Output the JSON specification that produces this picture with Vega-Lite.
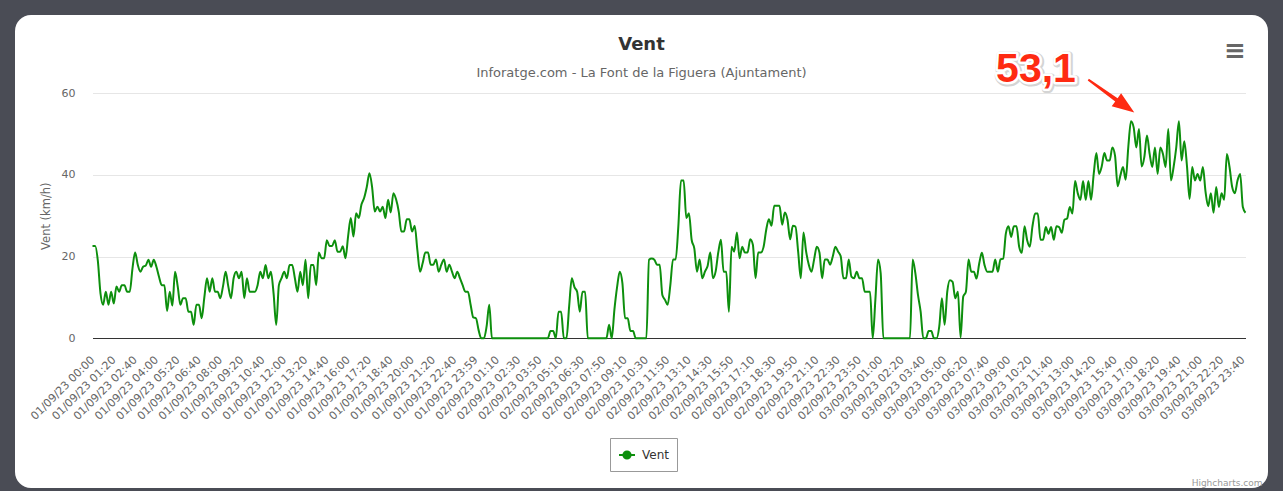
{
"$schema":"https://vega.github.io/schema/vega-lite/v6.json",
"width":1253,"height":473,
"autosize":{"type":"none"},
"padding":{"left":15,"top":15,"right":15,"bottom":3},
"background":"#4a4c55",
"config":{"view":{"fill":"white","stroke":null,"cornerRadius":16},"font":"DejaVu Sans"},
"title":{"text":"Vent","subtitle":"Inforatge.com - La Font de la Figuera (Ajuntament)","anchor":"middle","frame":"group","offset":-65,"font":"DejaVu Sans","fontSize":18,"fontWeight":"bold","color":"#333333","subtitleFont":"DejaVu Sans","subtitleFontSize":13,"subtitleColor":"#666666","subtitlePadding":13.5},
"datasets":{
"ann":[{"t":"03/09/23 16:40","v":53.1,"label":"53,1","menu":"≡"}],
"wind":[
{"t":"01/09/23 00:00","v":22.6},{"t":"01/09/23 00:10","v":22.6},{"t":"01/09/23 00:20","v":19},{"t":"01/09/23 00:30","v":11},{"t":"01/09/23 00:40","v":8.2},{"t":"01/09/23 00:50","v":11.4},
{"t":"01/09/23 01:00","v":8.2},{"t":"01/09/23 01:10","v":11.4},{"t":"01/09/23 01:20","v":8.5},{"t":"01/09/23 01:30","v":12.7},{"t":"01/09/23 01:40","v":11.4},{"t":"01/09/23 01:50","v":13},
{"t":"01/09/23 02:00","v":13},{"t":"01/09/23 02:10","v":11.4},{"t":"01/09/23 02:20","v":11.4},{"t":"01/09/23 02:30","v":17},{"t":"01/09/23 02:40","v":21},{"t":"01/09/23 02:50","v":18},
{"t":"01/09/23 03:00","v":16.3},{"t":"01/09/23 03:10","v":17.5},{"t":"01/09/23 03:20","v":17.8},{"t":"01/09/23 03:30","v":19.2},{"t":"01/09/23 03:40","v":17.5},{"t":"01/09/23 03:50","v":19.2},
{"t":"01/09/23 04:00","v":17.5},{"t":"01/09/23 04:10","v":15},{"t":"01/09/23 04:20","v":13},{"t":"01/09/23 04:30","v":13},{"t":"01/09/23 04:40","v":6.7},{"t":"01/09/23 04:50","v":11.4},
{"t":"01/09/23 05:00","v":8},{"t":"01/09/23 05:10","v":16.3},{"t":"01/09/23 05:20","v":12.7},{"t":"01/09/23 05:30","v":8.2},{"t":"01/09/23 05:40","v":9.8},{"t":"01/09/23 05:50","v":9.8},
{"t":"01/09/23 06:00","v":6.5},{"t":"01/09/23 06:10","v":6.5},{"t":"01/09/23 06:20","v":3.3},{"t":"01/09/23 06:30","v":8.2},{"t":"01/09/23 06:40","v":8.2},{"t":"01/09/23 06:50","v":4.9},
{"t":"01/09/23 07:00","v":10},{"t":"01/09/23 07:10","v":14.7},{"t":"01/09/23 07:20","v":11.4},{"t":"01/09/23 07:30","v":14.7},{"t":"01/09/23 07:40","v":11.4},{"t":"01/09/23 07:50","v":11.4},
{"t":"01/09/23 08:00","v":9.8},{"t":"01/09/23 08:10","v":12.7},{"t":"01/09/23 08:20","v":16.3},{"t":"01/09/23 08:30","v":12.7},{"t":"01/09/23 08:40","v":9.8},{"t":"01/09/23 08:50","v":14.7},
{"t":"01/09/23 09:00","v":16.3},{"t":"01/09/23 09:10","v":14.7},{"t":"01/09/23 09:20","v":16.3},{"t":"01/09/23 09:30","v":9.8},{"t":"01/09/23 09:40","v":14.7},{"t":"01/09/23 09:50","v":11.4},
{"t":"01/09/23 10:00","v":11.4},{"t":"01/09/23 10:10","v":11.4},{"t":"01/09/23 10:20","v":13},{"t":"01/09/23 10:30","v":16.3},{"t":"01/09/23 10:40","v":14.7},{"t":"01/09/23 10:50","v":17.9},
{"t":"01/09/23 11:00","v":14.7},{"t":"01/09/23 11:10","v":16.3},{"t":"01/09/23 11:20","v":11},{"t":"01/09/23 11:30","v":3.3},{"t":"01/09/23 11:40","v":13},{"t":"01/09/23 11:50","v":14.7},
{"t":"01/09/23 12:00","v":16.3},{"t":"01/09/23 12:10","v":14.7},{"t":"01/09/23 12:20","v":17.9},{"t":"01/09/23 12:30","v":17.9},{"t":"01/09/23 12:40","v":14.7},{"t":"01/09/23 12:50","v":11.4},
{"t":"01/09/23 13:00","v":16.3},{"t":"01/09/23 13:10","v":13},{"t":"01/09/23 13:20","v":19.2},{"t":"01/09/23 13:30","v":9.8},{"t":"01/09/23 13:40","v":17.9},{"t":"01/09/23 13:50","v":17.9},
{"t":"01/09/23 14:00","v":13},{"t":"01/09/23 14:10","v":21},{"t":"01/09/23 14:20","v":19.6},{"t":"01/09/23 14:30","v":19.6},{"t":"01/09/23 14:40","v":24},{"t":"01/09/23 14:50","v":22.6},
{"t":"01/09/23 15:00","v":22.6},{"t":"01/09/23 15:10","v":24},{"t":"01/09/23 15:20","v":21.2},{"t":"01/09/23 15:30","v":21.2},{"t":"01/09/23 15:40","v":22.5},{"t":"01/09/23 15:50","v":19.6},
{"t":"01/09/23 16:00","v":25},{"t":"01/09/23 16:10","v":29.4},{"t":"01/09/23 16:20","v":24.9},{"t":"01/09/23 16:30","v":30.6},{"t":"01/09/23 16:40","v":29.4},{"t":"01/09/23 16:50","v":32.7},
{"t":"01/09/23 17:00","v":34.3},{"t":"01/09/23 17:10","v":37},{"t":"01/09/23 17:20","v":40.4},{"t":"01/09/23 17:30","v":37},{"t":"01/09/23 17:40","v":31},{"t":"01/09/23 17:50","v":32.2},
{"t":"01/09/23 18:00","v":31},{"t":"01/09/23 18:10","v":32.2},{"t":"01/09/23 18:20","v":29.4},{"t":"01/09/23 18:30","v":33.9},{"t":"01/09/23 18:40","v":30.8},{"t":"01/09/23 18:50","v":35.5},
{"t":"01/09/23 19:00","v":34},{"t":"01/09/23 19:10","v":31},{"t":"01/09/23 19:20","v":26.1},{"t":"01/09/23 19:30","v":26.1},{"t":"01/09/23 19:40","v":29.1},{"t":"01/09/23 19:50","v":29.1},
{"t":"01/09/23 20:00","v":26.1},{"t":"01/09/23 20:10","v":27.5},{"t":"01/09/23 20:20","v":21.6},{"t":"01/09/23 20:30","v":16.3},{"t":"01/09/23 20:40","v":18.4},{"t":"01/09/23 20:50","v":21},
{"t":"01/09/23 21:00","v":21},{"t":"01/09/23 21:10","v":18},{"t":"01/09/23 21:20","v":18},{"t":"01/09/23 21:30","v":19.3},{"t":"01/09/23 21:40","v":16.3},{"t":"01/09/23 21:50","v":18},
{"t":"01/09/23 22:00","v":19.3},{"t":"01/09/23 22:10","v":16.3},{"t":"01/09/23 22:20","v":18},{"t":"01/09/23 22:30","v":16.3},{"t":"01/09/23 22:40","v":14.7},{"t":"01/09/23 22:50","v":16.3},
{"t":"01/09/23 23:00","v":14.7},{"t":"01/09/23 23:10","v":13},{"t":"01/09/23 23:20","v":11.4},{"t":"01/09/23 23:30","v":11.4},{"t":"01/09/23 23:40","v":8.2},{"t":"01/09/23 23:50","v":5.1},
{"t":"01/09/23 23:59","v":4.9},
{"t":"02/09/23 00:00","v":2},{"t":"02/09/23 00:10","v":0},{"t":"02/09/23 00:20","v":0},{"t":"02/09/23 00:30","v":2.9},{"t":"02/09/23 00:40","v":8.2},{"t":"02/09/23 00:50","v":0},
{"t":"02/09/23 01:00","v":0},{"t":"02/09/23 01:10","v":0},{"t":"02/09/23 01:20","v":0},{"t":"02/09/23 01:30","v":0},{"t":"02/09/23 01:40","v":0},{"t":"02/09/23 01:50","v":0},
{"t":"02/09/23 02:00","v":0},{"t":"02/09/23 02:10","v":0},{"t":"02/09/23 02:20","v":0},{"t":"02/09/23 02:30","v":0},{"t":"02/09/23 02:40","v":0},{"t":"02/09/23 02:50","v":0},
{"t":"02/09/23 03:00","v":0},{"t":"02/09/23 03:10","v":0},{"t":"02/09/23 03:20","v":0},{"t":"02/09/23 03:30","v":0},{"t":"02/09/23 03:40","v":0},{"t":"02/09/23 03:50","v":0},
{"t":"02/09/23 04:00","v":0},{"t":"02/09/23 04:10","v":0},{"t":"02/09/23 04:20","v":0},{"t":"02/09/23 04:30","v":1.8},{"t":"02/09/23 04:40","v":1.8},{"t":"02/09/23 04:50","v":0},
{"t":"02/09/23 05:00","v":6.5},{"t":"02/09/23 05:10","v":6.5},{"t":"02/09/23 05:20","v":0},{"t":"02/09/23 05:30","v":0},{"t":"02/09/23 05:40","v":7.8},{"t":"02/09/23 05:50","v":14.7},
{"t":"02/09/23 06:00","v":12.5},{"t":"02/09/23 06:10","v":11.4},{"t":"02/09/23 06:20","v":6.5},{"t":"02/09/23 06:30","v":11.4},{"t":"02/09/23 06:40","v":11.4},{"t":"02/09/23 06:50","v":0},
{"t":"02/09/23 07:00","v":0},{"t":"02/09/23 07:10","v":0},{"t":"02/09/23 07:20","v":0},{"t":"02/09/23 07:30","v":0},{"t":"02/09/23 07:40","v":0},{"t":"02/09/23 07:50","v":0},
{"t":"02/09/23 08:00","v":0},{"t":"02/09/23 08:10","v":3.3},{"t":"02/09/23 08:20","v":0},{"t":"02/09/23 08:30","v":7},{"t":"02/09/23 08:40","v":12.5},{"t":"02/09/23 08:50","v":16.3},
{"t":"02/09/23 09:00","v":13.5},{"t":"02/09/23 09:10","v":4.9},{"t":"02/09/23 09:20","v":4.9},{"t":"02/09/23 09:30","v":1.8},{"t":"02/09/23 09:40","v":1.8},{"t":"02/09/23 09:50","v":0},
{"t":"02/09/23 10:00","v":0},{"t":"02/09/23 10:10","v":0},{"t":"02/09/23 10:20","v":0},{"t":"02/09/23 10:30","v":0},{"t":"02/09/23 10:40","v":19.2},{"t":"02/09/23 10:50","v":19.5},
{"t":"02/09/23 11:00","v":19.2},{"t":"02/09/23 11:10","v":18},{"t":"02/09/23 11:20","v":18},{"t":"02/09/23 11:30","v":10.6},{"t":"02/09/23 11:40","v":9.4},{"t":"02/09/23 11:50","v":8.2},
{"t":"02/09/23 12:00","v":13},{"t":"02/09/23 12:10","v":19.3},{"t":"02/09/23 12:20","v":19.3},{"t":"02/09/23 12:30","v":27.3},{"t":"02/09/23 12:40","v":38.6},{"t":"02/09/23 12:50","v":38.6},
{"t":"02/09/23 13:00","v":29.4},{"t":"02/09/23 13:10","v":30.6},{"t":"02/09/23 13:20","v":24.1},{"t":"02/09/23 13:30","v":22},{"t":"02/09/23 13:40","v":16.3},{"t":"02/09/23 13:50","v":19.3},
{"t":"02/09/23 14:00","v":14.7},{"t":"02/09/23 14:10","v":16.3},{"t":"02/09/23 14:20","v":17.7},{"t":"02/09/23 14:30","v":21},{"t":"02/09/23 14:40","v":14.7},{"t":"02/09/23 14:50","v":16.3},
{"t":"02/09/23 15:00","v":21},{"t":"02/09/23 15:10","v":24.1},{"t":"02/09/23 15:20","v":16.3},{"t":"02/09/23 15:30","v":16.3},{"t":"02/09/23 15:40","v":6.5},{"t":"02/09/23 15:50","v":22.4},
{"t":"02/09/23 16:00","v":21.2},{"t":"02/09/23 16:10","v":25.9},{"t":"02/09/23 16:20","v":19.6},{"t":"02/09/23 16:30","v":22.4},{"t":"02/09/23 16:40","v":21},{"t":"02/09/23 16:50","v":21},
{"t":"02/09/23 17:00","v":24.2},{"t":"02/09/23 17:10","v":22.9},{"t":"02/09/23 17:20","v":14.7},{"t":"02/09/23 17:30","v":21},{"t":"02/09/23 17:40","v":21},{"t":"02/09/23 17:50","v":22.3},
{"t":"02/09/23 18:00","v":26.5},{"t":"02/09/23 18:10","v":29.1},{"t":"02/09/23 18:20","v":27.5},{"t":"02/09/23 18:30","v":32.4},{"t":"02/09/23 18:40","v":32.4},{"t":"02/09/23 18:50","v":32.4},
{"t":"02/09/23 19:00","v":27.8},{"t":"02/09/23 19:10","v":30.8},{"t":"02/09/23 19:20","v":29},{"t":"02/09/23 19:30","v":24.2},{"t":"02/09/23 19:40","v":27.5},{"t":"02/09/23 19:50","v":27.3},
{"t":"02/09/23 20:00","v":21.2},{"t":"02/09/23 20:10","v":14.7},{"t":"02/09/23 20:20","v":25.9},{"t":"02/09/23 20:30","v":21.2},{"t":"02/09/23 20:40","v":18},{"t":"02/09/23 20:50","v":16.3},
{"t":"02/09/23 21:00","v":19.3},{"t":"02/09/23 21:10","v":22.4},{"t":"02/09/23 21:20","v":21},{"t":"02/09/23 21:30","v":14.7},{"t":"02/09/23 21:40","v":19.3},{"t":"02/09/23 21:50","v":19.3},
{"t":"02/09/23 22:00","v":18},{"t":"02/09/23 22:10","v":20},{"t":"02/09/23 22:20","v":22.4},{"t":"02/09/23 22:30","v":21.2},{"t":"02/09/23 22:40","v":20},{"t":"02/09/23 22:50","v":14.7},
{"t":"02/09/23 23:00","v":14.7},{"t":"02/09/23 23:10","v":19.3},{"t":"02/09/23 23:20","v":15.1},{"t":"02/09/23 23:30","v":14.7},{"t":"02/09/23 23:40","v":16.3},{"t":"02/09/23 23:50","v":14.7},
{"t":"02/09/23 23:59","v":14.7},
{"t":"03/09/23 00:00","v":11.4},{"t":"03/09/23 00:10","v":11.4},{"t":"03/09/23 00:20","v":11.4},{"t":"03/09/23 00:30","v":0},{"t":"03/09/23 00:40","v":9.4},{"t":"03/09/23 00:50","v":19.3},
{"t":"03/09/23 01:00","v":15.9},{"t":"03/09/23 01:10","v":0},{"t":"03/09/23 01:20","v":0},{"t":"03/09/23 01:30","v":0},{"t":"03/09/23 01:40","v":0},{"t":"03/09/23 01:50","v":0},
{"t":"03/09/23 02:00","v":0},{"t":"03/09/23 02:10","v":0},{"t":"03/09/23 02:20","v":0},{"t":"03/09/23 02:30","v":0},{"t":"03/09/23 02:40","v":0},{"t":"03/09/23 02:50","v":0},
{"t":"03/09/23 03:00","v":19.3},{"t":"03/09/23 03:10","v":16},{"t":"03/09/23 03:20","v":10.6},{"t":"03/09/23 03:30","v":6.5},{"t":"03/09/23 03:40","v":0},{"t":"03/09/23 03:50","v":0},
{"t":"03/09/23 04:00","v":1.8},{"t":"03/09/23 04:10","v":1.8},{"t":"03/09/23 04:20","v":0},{"t":"03/09/23 04:30","v":0},{"t":"03/09/23 04:40","v":2.9},{"t":"03/09/23 04:50","v":9.8},
{"t":"03/09/23 05:00","v":3.3},{"t":"03/09/23 05:10","v":11.4},{"t":"03/09/23 05:20","v":14.2},{"t":"03/09/23 05:30","v":13.8},{"t":"03/09/23 05:40","v":9.8},{"t":"03/09/23 05:50","v":11.4},
{"t":"03/09/23 06:00","v":0.2},{"t":"03/09/23 06:10","v":10.2},{"t":"03/09/23 06:20","v":11.4},{"t":"03/09/23 06:30","v":19.3},{"t":"03/09/23 06:40","v":16.3},{"t":"03/09/23 06:50","v":16.3},
{"t":"03/09/23 07:00","v":14.6},{"t":"03/09/23 07:10","v":18.3},{"t":"03/09/23 07:20","v":20.9},{"t":"03/09/23 07:30","v":17.9},{"t":"03/09/23 07:40","v":16.3},{"t":"03/09/23 07:50","v":16.3},
{"t":"03/09/23 08:00","v":16.3},{"t":"03/09/23 08:10","v":19.3},{"t":"03/09/23 08:20","v":16.3},{"t":"03/09/23 08:30","v":19.3},{"t":"03/09/23 08:40","v":19.5},{"t":"03/09/23 08:50","v":25.6},
{"t":"03/09/23 09:00","v":27.4},{"t":"03/09/23 09:10","v":24.8},{"t":"03/09/23 09:20","v":27.4},{"t":"03/09/23 09:30","v":27.4},{"t":"03/09/23 09:40","v":22.4},{"t":"03/09/23 09:50","v":20.9},
{"t":"03/09/23 10:00","v":27.4},{"t":"03/09/23 10:10","v":24},{"t":"03/09/23 10:20","v":22.4},{"t":"03/09/23 10:30","v":27.4},{"t":"03/09/23 10:40","v":30.5},{"t":"03/09/23 10:50","v":30.5},
{"t":"03/09/23 11:00","v":24.1},{"t":"03/09/23 11:10","v":24.1},{"t":"03/09/23 11:20","v":27.2},{"t":"03/09/23 11:30","v":25.6},{"t":"03/09/23 11:40","v":27.2},{"t":"03/09/23 11:50","v":24.1},
{"t":"03/09/23 12:00","v":27.4},{"t":"03/09/23 12:10","v":27.2},{"t":"03/09/23 12:20","v":25.8},{"t":"03/09/23 12:30","v":29},{"t":"03/09/23 12:40","v":29.3},{"t":"03/09/23 12:50","v":32.1},
{"t":"03/09/23 13:00","v":30.5},{"t":"03/09/23 13:10","v":38.5},{"t":"03/09/23 13:20","v":35.5},{"t":"03/09/23 13:30","v":33.9},{"t":"03/09/23 13:40","v":38.5},{"t":"03/09/23 13:50","v":33.9},
{"t":"03/09/23 14:00","v":38.5},{"t":"03/09/23 14:10","v":33.9},{"t":"03/09/23 14:20","v":40.2},{"t":"03/09/23 14:30","v":45.3},{"t":"03/09/23 14:40","v":40.2},{"t":"03/09/23 14:50","v":42},
{"t":"03/09/23 15:00","v":45.3},{"t":"03/09/23 15:10","v":43.5},{"t":"03/09/23 15:20","v":43.5},{"t":"03/09/23 15:30","v":46.7},{"t":"03/09/23 15:40","v":44.7},{"t":"03/09/23 15:50","v":37.2},
{"t":"03/09/23 16:00","v":39.8},{"t":"03/09/23 16:10","v":41.9},{"t":"03/09/23 16:20","v":38.8},{"t":"03/09/23 16:30","v":46.9},{"t":"03/09/23 16:40","v":53.1},{"t":"03/09/23 16:50","v":51.6},
{"t":"03/09/23 17:00","v":46.7},{"t":"03/09/23 17:10","v":51.2},{"t":"03/09/23 17:20","v":42},{"t":"03/09/23 17:30","v":44.3},{"t":"03/09/23 17:40","v":49.6},{"t":"03/09/23 17:50","v":45.1},
{"t":"03/09/23 18:00","v":41.9},{"t":"03/09/23 18:10","v":46.7},{"t":"03/09/23 18:20","v":40.2},{"t":"03/09/23 18:30","v":46.7},{"t":"03/09/23 18:40","v":45.1},{"t":"03/09/23 18:50","v":41.9},
{"t":"03/09/23 19:00","v":51.2},{"t":"03/09/23 19:10","v":38.6},{"t":"03/09/23 19:20","v":41.9},{"t":"03/09/23 19:30","v":46.7},{"t":"03/09/23 19:40","v":53.1},{"t":"03/09/23 19:50","v":43.5},
{"t":"03/09/23 20:00","v":48.2},{"t":"03/09/23 20:10","v":42.3},{"t":"03/09/23 20:20","v":34.1},{"t":"03/09/23 20:30","v":41.9},{"t":"03/09/23 20:40","v":38.6},{"t":"03/09/23 20:50","v":40.2},
{"t":"03/09/23 21:00","v":38.6},{"t":"03/09/23 21:10","v":41.9},{"t":"03/09/23 21:20","v":35.8},{"t":"03/09/23 21:30","v":32.3},{"t":"03/09/23 21:40","v":35.5},{"t":"03/09/23 21:50","v":30.7},
{"t":"03/09/23 22:00","v":37},{"t":"03/09/23 22:10","v":32.1},{"t":"03/09/23 22:20","v":35.5},{"t":"03/09/23 22:30","v":33.9},{"t":"03/09/23 22:40","v":45.1},{"t":"03/09/23 22:50","v":41.9},
{"t":"03/09/23 23:00","v":37},{"t":"03/09/23 23:10","v":35.5},{"t":"03/09/23 23:20","v":38.6},{"t":"03/09/23 23:30","v":40.2},{"t":"03/09/23 23:40","v":32.1},{"t":"03/09/23 23:50","v":30.7}
]},
"encoding":{
"x":{"field":"t","type":"ordinal","scale":{"type":"point","padding":0,"range":[77.5,1230.5]},
"axis":{"values":["01/09/23 00:00","01/09/23 01:20","01/09/23 02:40","01/09/23 04:00","01/09/23 05:20","01/09/23 06:40","01/09/23 08:00","01/09/23 09:20","01/09/23 10:40","01/09/23 12:00","01/09/23 13:20","01/09/23 14:40","01/09/23 16:00","01/09/23 17:20","01/09/23 18:40","01/09/23 20:00","01/09/23 21:20","01/09/23 22:40","01/09/23 23:59","02/09/23 01:10","02/09/23 02:30","02/09/23 03:50","02/09/23 05:10","02/09/23 06:30","02/09/23 07:50","02/09/23 09:10","02/09/23 10:30","02/09/23 11:50","02/09/23 13:10","02/09/23 14:30","02/09/23 15:50","02/09/23 17:10","02/09/23 18:30","02/09/23 19:50","02/09/23 21:10","02/09/23 22:30","02/09/23 23:50","03/09/23 01:00","03/09/23 02:20","03/09/23 03:40","03/09/23 05:00","03/09/23 06:20","03/09/23 07:40","03/09/23 09:00","03/09/23 10:20","03/09/23 11:40","03/09/23 13:00","03/09/23 14:20","03/09/23 15:40","03/09/23 17:00","03/09/23 18:20","03/09/23 19:40","03/09/23 21:00","03/09/23 22:20","03/09/23 23:40"],
"orient":"bottom","offset":-150,"labelAngle":-45,"labelAlign":"right","labelBaseline":"middle","labelPadding":20,"labelOverlap":false,"labelBound":false,"labelFlush":false,"labelFont":"DejaVu Sans","labelFontSize":11,"labelColor":"#666666","ticks":false,"tickSize":0,"domain":true,"domainColor":"#333333","domainWidth":1,"grid":false,
"title":"Highcharts.com","titleX":1247,"titleY":147,"titleAlign":"right","titleAnchor":null,"titleBaseline":"alphabetic","titleFont":"DejaVu Sans","titleFontSize":9,"titleFontWeight":"normal","titleColor":"#999999"}},
"y":{"field":"v","type":"quantitative","scale":{"domain":[0,60],"range":[323.3,78],"nice":false,"zero":true},
"axis":{"values":[0,20,40,60],"orient":"left","offset":-77,"grid":true,"gridColor":"#e6e6e6","gridWidth":1,"domain":false,"ticks":false,"tickSize":0,"labelPadding":17,"labelFont":"DejaVu Sans","labelFontSize":11,"labelColor":"#666666","title":"Vent (km/h)","titleFont":"DejaVu Sans","titleFontSize":11.5,"titleFontWeight":"normal","titleColor":"#666666","titlePadding":10}}
},
"layer":[
{"data":{"name":"wind"},"mark":{"type":"line","strokeWidth":2,"interpolate":"monotone"},
"encoding":{"color":{"datum":"Vent","scale":{"range":["#0d8f0d"]},
"legend":{"title":null,"orient":"none","legendX":595,"legendY":423,"strokeColor":"#999999","fillColor":"white","padding":8,"cornerRadius":0,"symbolType":"M-1,0H1M0.45,0A0.45,0.45,0,1,1,-0.45,0A0.45,0.45,0,1,1,0.45,0Z","symbolSize":256,"symbolStrokeWidth":2,"symbolFillColor":"#0d8f0d","symbolStrokeColor":"#0d8f0d","labelFont":"DejaVu Sans","labelFontSize":12,"labelColor":"#333333","labelOffset":6}}}},
{"data":{"name":"ann"},"mark":{"type":"text","font":"Liberation Sans","fontSize":41,"fontWeight":"bold","align":"center","baseline":"alphabetic","dx":-94,"dy":-38,"fill":"#d4d4d4","stroke":"#d4d4d4","strokeWidth":7,"strokeJoin":"round"},"encoding":{"text":{"field":"label"}}},
{"data":{"name":"ann"},"mark":{"type":"text","font":"Liberation Sans","fontSize":41,"fontWeight":"bold","align":"center","baseline":"alphabetic","dx":-95,"dy":-39,"fill":"white","stroke":"white","strokeWidth":5,"strokeJoin":"round"},"encoding":{"text":{"field":"label"}}},
{"data":{"name":"ann"},"mark":{"type":"text","font":"Liberation Sans","fontSize":41,"fontWeight":"bold","align":"center","baseline":"alphabetic","dx":-95,"dy":-39,"fill":"#fe2a12"},"encoding":{"text":{"field":"label"}}},
{"data":{"name":"ann"},"mark":{"type":"point","shape":"M0.33,-0.86L-1.93,-1.49L-1.58,-1.98L-4.33,-4.08L-4.21,-4.24L-1.34,-2.30L-0.99,-2.79Z","size":400,"filled":true,"color":"#fe2a12","opacity":1,"strokeWidth":0}},
{"data":{"name":"ann"},"mark":{"type":"text","font":"DejaVu Sans","fontSize":26,"fontWeight":"bold","align":"center","baseline":"middle","dx":104,"dy":-70,"fill":"#666666"},"encoding":{"text":{"field":"menu"}}}
]
}
